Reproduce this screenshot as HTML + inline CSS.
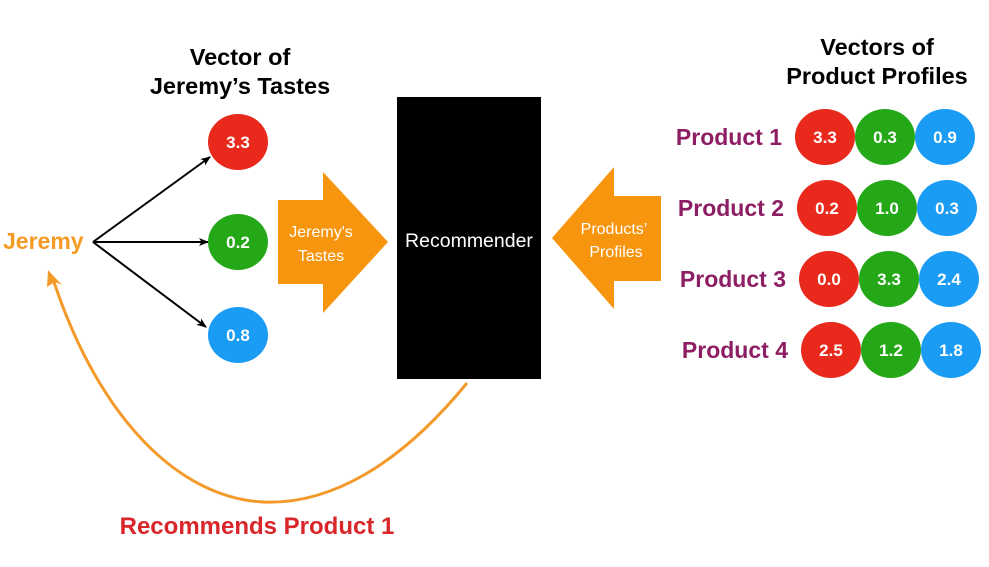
<!DOCTYPE html>
<html><head><meta charset="utf-8"><style>
html,body{margin:0;padding:0;background:#fff;}
svg{display:block;font-family:"Liberation Sans",Arial,sans-serif;font-weight:bold;}
</style></head><body>
<svg width="989" height="567" viewBox="0 0 989 567" xmlns="http://www.w3.org/2000/svg">
<defs>
<marker id="ah" markerWidth="10" markerHeight="8" refX="9" refY="4" orient="auto" markerUnits="userSpaceOnUse"><path d="M0,0 L10,4 L0,8 L2.5,4 Z" fill="#000"/></marker>
</defs>
<rect width="989" height="567" fill="#fff"/>
<text x="240" y="65" font-size="23.5" text-anchor="middle" fill="#000">Vector of</text>
<text x="240" y="94" font-size="23.5" text-anchor="middle" fill="#000">Jeremy’s Tastes</text>
<text x="877" y="55" font-size="23.5" text-anchor="middle" fill="#000">Vectors of</text>
<text x="877" y="84" font-size="23.5" text-anchor="middle" fill="#000">Product Profiles</text>
<text x="3" y="249" font-size="23" fill="#f59a23">Jeremy</text>
<g stroke="#000" stroke-width="2" fill="none">
<line x1="93" y1="242" x2="210" y2="157" marker-end="url(#ah)"/>
<line x1="93" y1="242" x2="208" y2="242" marker-end="url(#ah)"/>
<line x1="93" y1="242" x2="206" y2="327" marker-end="url(#ah)"/>
</g>
<g font-size="17" fill="#fff" text-anchor="middle">
<ellipse cx="238" cy="142" rx="30" ry="28" fill="#e8291c"/><text x="238" y="148">3.3</text>
<ellipse cx="238" cy="242" rx="30" ry="28" fill="#24a818"/><text x="238" y="248">0.2</text>
<ellipse cx="238" cy="335" rx="30" ry="28" fill="#1a9cf5"/><text x="238" y="341">0.8</text>
</g>
<path d="M278,200 L323,200 L323,172 L388,242 L323,313 L323,284 L278,284 Z" fill="#f7950f"/>
<text x="321" y="237" font-size="16" fill="#fff" text-anchor="middle" style="font-weight:normal">Jeremy's</text>
<text x="321" y="261" font-size="16" fill="#fff" text-anchor="middle" style="font-weight:normal">Tastes</text>
<rect x="397" y="97" width="144" height="282" fill="#000"/>
<text x="469" y="247" font-size="19.5" fill="#fff" text-anchor="middle" style="font-weight:normal">Recommender</text>
<path d="M661,196 L614,196 L614,167 L552,238 L614,309 L614,281 L661,281 Z" fill="#f7950f"/>
<text x="614" y="234" font-size="16" fill="#fff" text-anchor="middle" style="font-weight:normal">Products’</text>
<text x="616" y="257" font-size="16" fill="#fff" text-anchor="middle" style="font-weight:normal">Profiles</text>
<g font-size="23" fill="#8e1e63" text-anchor="end">
<text x="782" y="145">Product 1</text>
<text x="784" y="216">Product 2</text>
<text x="786" y="287">Product 3</text>
<text x="788" y="358">Product 4</text>
</g>
<g font-size="17" fill="#fff" text-anchor="middle">
<ellipse cx="825" cy="137" rx="30" ry="28" fill="#e8291c"/><text x="825" y="143">3.3</text>
<ellipse cx="885" cy="137" rx="30" ry="28" fill="#24a818"/><text x="885" y="143">0.3</text>
<ellipse cx="945" cy="137" rx="30" ry="28" fill="#1a9cf5"/><text x="945" y="143">0.9</text>
<ellipse cx="827" cy="208" rx="30" ry="28" fill="#e8291c"/><text x="827" y="214">0.2</text>
<ellipse cx="887" cy="208" rx="30" ry="28" fill="#24a818"/><text x="887" y="214">1.0</text>
<ellipse cx="947" cy="208" rx="30" ry="28" fill="#1a9cf5"/><text x="947" y="214">0.3</text>
<ellipse cx="829" cy="279" rx="30" ry="28" fill="#e8291c"/><text x="829" y="285">0.0</text>
<ellipse cx="889" cy="279" rx="30" ry="28" fill="#24a818"/><text x="889" y="285">3.3</text>
<ellipse cx="949" cy="279" rx="30" ry="28" fill="#1a9cf5"/><text x="949" y="285">2.4</text>
<ellipse cx="831" cy="350" rx="30" ry="28" fill="#e8291c"/><text x="831" y="356">2.5</text>
<ellipse cx="891" cy="350" rx="30" ry="28" fill="#24a818"/><text x="891" y="356">1.2</text>
<ellipse cx="951" cy="350" rx="30" ry="28" fill="#1a9cf5"/><text x="951" y="356">1.8</text>
</g>
<path d="M467,383 C400,465 330,505 263,502 C180,498 100,420 54,282" fill="none" stroke="#f39a2a" stroke-width="3"/>
<path d="M48,270 L62,285 L55,282 L47,287 Z" fill="#f39a2a"/>
<text x="257" y="534" font-size="24" fill="#d9262b" text-anchor="middle">Recommends Product 1</text>
</svg>
</body></html>
